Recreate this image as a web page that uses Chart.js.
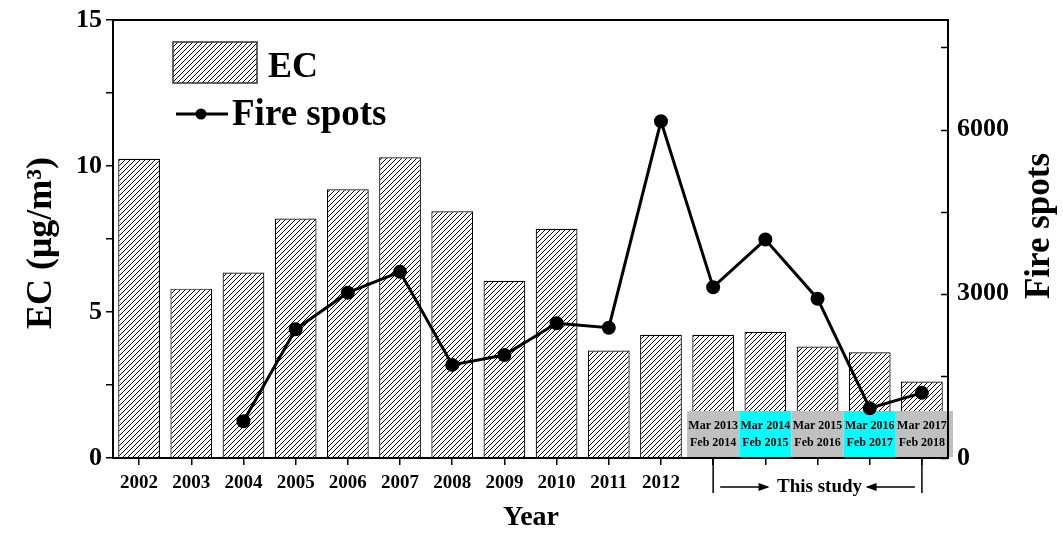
<!DOCTYPE html>
<html>
<head>
<meta charset="utf-8">
<script src="https://cdn.jsdelivr.net/npm/chart.js@4.4.1/dist/chart.umd.min.js"></script>
<style>
  html, body { margin: 0; padding: 0; background: #fff; }
  #wrap { width: 1063px; height: 533px; }
</style>
</head>
<body>
<div id="wrap"><canvas id="c" width="1063" height="533"></canvas></div>
<script>
// Annual EC means (2002-2012) and the five sampling years of this study
const years = ['2002', '2003', '2004', '2005', '2006', '2007', '2008', '2009', '2010', '2011', '2012'];
const studyStart = ['Mar 2013', 'Mar 2014', 'Mar 2015', 'Mar 2016', 'Mar 2017'];
const studyEnd = ['Feb 2014', 'Feb 2015', 'Feb 2016', 'Feb 2017', 'Feb 2018'];
const categories = years.concat(studyStart.map((s, i) => s + ' - ' + studyEnd[i]));

// EC concentration (µg/m³)
const ecValues = [10.25, 5.8, 6.35, 8.2, 9.2, 10.3, 8.45, 6.07, 7.85, 3.68, 4.22,
                  4.22, 4.32, 3.82, 3.62, 2.62];
// Number of fire spots (no record for 2002-2003)
const fireSpots = [null, null, 670, 2350, 3020, 3400, 1700, 1880, 2460, 2380, 6150,
                   3120, 3990, 2910, 910, 1190];

// Tick marks and labelled ticks on each value axis
const ecTicks = [0, 2.5, 5, 7.5, 10, 12.5, 15];
const ecTickLabels = [0, 5, 10, 15];
const fireTicks = [0, 1500, 3000, 4500, 6000, 7500];
const fireTickLabels = [0, 3000, 6000];

const SERIF = '"Liberation Serif", "Times New Roman", serif';
const studyFill = ['#c0c0c0', '#00ffff', '#c0c0c0', '#00ffff', '#c0c0c0'];

// Diagonal hatch used for the EC bars
function makeHatch() {
  const s = 5;
  const p = document.createElement('canvas');
  p.width = s; p.height = s;
  const g = p.getContext('2d');
  g.fillStyle = '#fff';
  g.fillRect(0, 0, s, s);
  g.strokeStyle = '#000';
  g.lineWidth = 1;
  g.beginPath();
  g.moveTo(0, s); g.lineTo(s, 0);
  g.moveTo(-s / 2, s / 2); g.lineTo(s / 2, -s / 2);
  g.moveTo(s / 2, s * 1.5); g.lineTo(s * 1.5, s / 2);
  g.stroke();
  return document.getElementById('c').getContext('2d').createPattern(p, 'repeat');
}
const hatch = makeHatch();

function arrowHead(ctx, x, y, dir) {
  ctx.beginPath();
  ctx.moveTo(x, y);
  ctx.lineTo(x - dir * 11, y - 4);
  ctx.lineTo(x - dir * 11, y + 4);
  ctx.closePath();
  ctx.fill();
}

// fixed axis sizes so the plot area sits where it should
function fixV(width) {
  return s => { s.width = width; s.paddingTop = 0; s.paddingBottom = 0; };
}

const decorations = {
  id: 'decorations',
  afterDatasetDraw(chart, args) {
    if (args.index !== 0) return;
    // period boxes laid over the study-year bars
    const ctx = chart.ctx;
    const x = chart.scales.x;
    const area = chart.chartArea;
    const w = x.getPixelForValue(1) - x.getPixelForValue(0);
    ctx.save();
    studyStart.forEach((s, k) => {
      const i = years.length + k;
      const cx = x.getPixelForValue(i);
      const extra = k === studyStart.length - 1 ? 5 : 0;
      ctx.fillStyle = studyFill[k];
      ctx.fillRect(cx - w / 2, area.bottom - 47, w + extra, 46);
      ctx.fillStyle = '#000';
      ctx.font = 'bold 12px ' + SERIF;
      ctx.textAlign = 'center';
      ctx.textBaseline = 'middle';
      ctx.fillText(s, cx, area.bottom - 32);
      ctx.fillText(studyEnd[k], cx, area.bottom - 15);
    });
    ctx.restore();
  },
  afterDraw(chart) {
    const ctx = chart.ctx;
    const area = chart.chartArea;
    const x = chart.scales.x;
    const y1 = chart.scales.y1;
    ctx.save();
    // frame
    ctx.strokeStyle = '#000';
    ctx.lineWidth = 2;
    ctx.strokeRect(area.left, area.top, area.right - area.left, area.bottom - area.top);

    // fire-spot axis ticks point into the plot
    ctx.lineWidth = 1.5;
    ctx.beginPath();
    fireTicks.forEach(v => {
      const py = Math.round(y1.getPixelForValue(v)) + 0.5;
      ctx.moveTo(area.right - 7, py);
      ctx.lineTo(area.right, py);
    });
    ctx.stroke();

    // "This study" bracket
    const x0 = x.getPixelForValue(years.length);
    const x1 = x.getPixelForValue(categories.length - 1);
    const xm = (x0 + x1) / 2;
    const ay = area.bottom + 29;
    ctx.beginPath();
    ctx.moveTo(x0, area.bottom); ctx.lineTo(x0, area.bottom + 35);
    ctx.moveTo(x1, area.bottom); ctx.lineTo(x1, area.bottom + 35);
    ctx.moveTo(x0 + 7, ay); ctx.lineTo(xm - 50, ay);
    ctx.moveTo(x1 - 7, ay); ctx.lineTo(xm + 50, ay);
    ctx.stroke();
    ctx.fillStyle = '#000';
    arrowHead(ctx, xm - 48, ay, 1);
    arrowHead(ctx, xm + 48, ay, -1);
    ctx.font = 'bold 19px ' + SERIF;
    ctx.textAlign = 'center';
    ctx.textBaseline = 'middle';
    ctx.fillText('This study', xm + 2, ay);

    // axis titles
    ctx.font = 'bold 28px ' + SERIF;
    ctx.fillText('Year', 531, 518);
    ctx.save();
    ctx.translate(42, 243);
    ctx.rotate(-Math.PI / 2);
    ctx.font = 'bold 36px ' + SERIF;
    ctx.fillText('EC (\u03bcg/m\u00b3)', 0, 0);
    ctx.restore();
    ctx.save();
    ctx.translate(1040, 226);
    ctx.rotate(-Math.PI / 2);
    ctx.font = 'bold 35px ' + SERIF;
    ctx.fillText('Fire spots', 0, 0);
    ctx.restore();

    // legend
    ctx.fillStyle = hatch;
    ctx.fillRect(173, 42, 84, 41);
    ctx.strokeStyle = '#333';
    ctx.lineWidth = 1.5;
    ctx.strokeRect(173, 42, 84, 41);
    ctx.fillStyle = '#000';
    ctx.textAlign = 'left';
    ctx.textBaseline = 'alphabetic';
    ctx.font = 'bold 36px ' + SERIF;
    ctx.fillText('EC', 268, 77);
    ctx.strokeStyle = '#000';
    ctx.lineWidth = 3;
    ctx.beginPath();
    ctx.moveTo(176, 114); ctx.lineTo(228, 114);
    ctx.stroke();
    ctx.beginPath();
    ctx.arc(201, 114, 5.5, 0, Math.PI * 2);
    ctx.fill();
    ctx.font = 'bold 37px ' + SERIF;
    ctx.fillText('Fire spots', 232, 125);
    ctx.restore();
  }
};

new Chart(document.getElementById('c'), {
  data: {
    labels: categories,
    datasets: [
      {
        type: 'bar',
        label: 'EC',
        data: ecValues,
        yAxisID: 'y',
        backgroundColor: hatch,
        borderColor: '#000',
        borderWidth: 1.2,
        barPercentage: 0.8,
        categoryPercentage: 1.0,
        order: 1
      },
      {
        type: 'line',
        label: 'Fire spots',
        data: fireSpots,
        yAxisID: 'y1',
        borderColor: '#000',
        borderWidth: 3,
        pointRadius: 5.5,
        pointBackgroundColor: '#000',
        pointBorderColor: '#000',
        tension: 0,
        spanGaps: false,
        order: 0
      }
    ]
  },
  options: {
    responsive: false,
    animation: false,
    devicePixelRatio: 1,
    layout: { padding: { top: 20, left: 0, right: 0, bottom: 0 } },
    plugins: { legend: { display: false }, tooltip: { enabled: false } },
    scales: {
      x: {
        type: 'category',
        offset: true,
        grid: { offset: false, drawOnChartArea: false, drawTicks: true, tickLength: 7, color: '#000', lineWidth: 1.5 },
        border: { display: true, color: '#000', width: 2 },
        ticks: {
          color: '#000',
          autoSkip: false,
          maxRotation: 0,
          padding: 7,
          font: { family: SERIF, size: 19, weight: 'bold' },
          callback: (v, i) => (i < years.length ? years[i] : '')
        },
        afterFit: s => { s.height = 75; s.paddingLeft = 0; s.paddingRight = 0; }
      },
      y: {
        position: 'left',
        min: 0,
        max: 15,
        grid: { drawOnChartArea: false, drawTicks: true, tickLength: 7, color: '#000', lineWidth: 1.5 },
        border: { display: true, color: '#000', width: 2 },
        afterBuildTicks: s => { s.ticks = ecTicks.map(v => ({ value: v })); },
        ticks: {
          color: '#000',
          padding: 4,
          font: { family: SERIF, size: 26, weight: 'bold' },
          callback: v => (ecTickLabels.includes(v) ? String(v) : '')
        },
        afterFit: fixV(113)
      },
      y1: {
        position: 'right',
        min: 0,
        max: 8000,
        grid: { drawOnChartArea: false, drawTicks: false },
        border: { display: true, color: '#000', width: 2 },
        afterBuildTicks: s => { s.ticks = fireTicks.map(v => ({ value: v })); },
        ticks: {
          color: '#000',
          padding: 9,
          font: { family: SERIF, size: 26, weight: 'bold' },
          callback: v => (fireTickLabels.includes(v) ? String(v) : '')
        },
        afterFit: fixV(115)
      }
    }
  },
  plugins: [decorations]
});
</script>
</body>
</html>
